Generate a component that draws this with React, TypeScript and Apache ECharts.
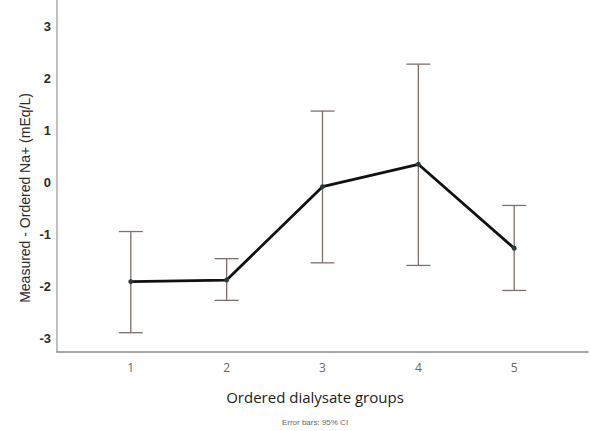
import React, { useEffect, useRef } from "react";
import * as echarts from "echarts";

const groups = [1, 2, 3, 4, 5];
const means = [-1.9, -1.87, -0.08, 0.35, -1.26];
const ciLow = [-2.88, -2.26, -1.54, -1.59, -2.07];
const ciHigh = [-0.94, -1.46, 1.37, 2.27, -0.44];
const yTicks = [-3, -2, -1, 0, 1, 2, 3];
const xTicks = [1, 2, 3, 4, 5];

export default function App() {
  const ref = useRef<HTMLDivElement>(null);
  useEffect(() => {
    if (!ref.current) return;
    const chart = echarts.init(ref.current, undefined, { renderer: "svg" });
    const barColor = "#7d6f6b";
    chart.setOption({
      animation: false,
      backgroundColor: "#ffffff",
      grid: { left: 57, right: 3, top: 0, bottom: 79 },
      xAxis: {
        type: "value",
        min: 0.23,
        max: 5.77,
        splitLine: { show: false },
        axisLine: { show: true, onZero: false, lineStyle: { color: "#8a8a8a", width: 1.5 } },
        axisTick: { show: false },
        axisLabel: {
          customValues: xTicks,
          color: "#666666",
          fontSize: 12,
          fontFamily: "Open Sans",
          margin: 9,
        },
      },
      yAxis: {
        type: "value",
        min: -3.25,
        max: 3.5,
        splitLine: { show: false },
        axisLine: { show: true, onZero: false, lineStyle: { color: "#a8a8a8", width: 1.5 } },
        axisTick: { show: false },
        axisLabel: {
          customValues: yTicks,
          color: "#2a2a2a",
          fontSize: 13,
          fontWeight: "bold",
          fontFamily: "Liberation Sans",
          margin: 6,
        },
      },
      graphic: [
        {
          type: "text",
          x: 25,
          y: 198,
          rotation: Math.PI / 2,
          style: {
            text: "Measured - Ordered Na+ (mEq/L)",
            fontSize: 14,
            fontFamily: "Liberation Sans",
            fill: "#2a2a2a",
            align: "center",
            verticalAlign: "middle",
          },
        },
        {
          type: "text",
          x: 315,
          y: 397,
          style: {
            text: "Ordered dialysate groups",
            fontSize: 15,
            fontFamily: "Open Sans",
            fill: "#222222",
            align: "center",
            verticalAlign: "middle",
          },
        },
        {
          type: "text",
          x: 315,
          y: 422,
          style: {
            text: "Error bars: 95% CI",
            fontSize: 8,
            fontFamily: "Liberation Sans",
            fill: "#666666",
            align: "center",
            verticalAlign: "middle",
          },
        },
      ],
      series: [
        {
          type: "custom",
          data: groups.map((g, i) => [g, ciLow[i], ciHigh[i]]),
          renderItem: (params: any, api: any) => {
            const x = api.value(0);
            const lo = api.coord([x, api.value(1)]);
            const hi = api.coord([x, api.value(2)]);
            const w = 12;
            const style = { stroke: barColor, lineWidth: 1.3 };
            return {
              type: "group",
              children: [
                { type: "line", shape: { x1: lo[0], y1: lo[1], x2: hi[0], y2: hi[1] }, style },
                { type: "line", shape: { x1: lo[0] - w, y1: lo[1], x2: lo[0] + w, y2: lo[1] }, style },
                { type: "line", shape: { x1: hi[0] - w, y1: hi[1], x2: hi[0] + w, y2: hi[1] }, style },
              ],
            };
          },
          z: 1,
        },
        {
          type: "line",
          data: groups.map((g, i) => [g, means[i]]),
          lineStyle: { color: "#111111", width: 2.8 },
          itemStyle: { color: "#2f3a3a" },
          symbol: "circle",
          symbolSize: 5,
          z: 2,
        },
      ],
    });
    return () => chart.dispose();
  }, []);
  return (
    <div
      ref={ref}
      style={{ position: "fixed", left: 0, top: 0, width: 591, height: 431 }}
    />
  );
}
